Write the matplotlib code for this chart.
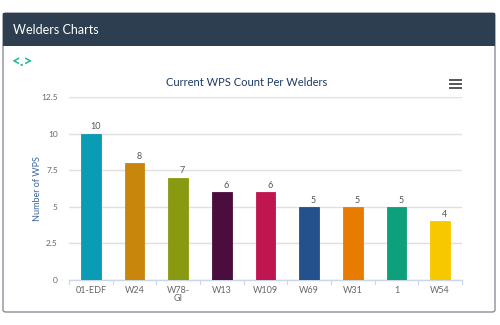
import matplotlib.pyplot as plt
from matplotlib.patches import FancyBboxPatch, Rectangle

# data
welders = ['01-EDF', 'W24', 'W78-\nGI', 'W13', 'W109', 'W69', 'W31', '1', 'W54']
wps_count = [10, 8, 7, 6, 6, 5, 5, 5, 4]
bar_colors = ['#0a9bb5', '#c8860d', '#8a9a10', '#4b0c3e', '#bf1650',
              '#24508c', '#e87c00', '#0ea07a', '#f7c800']
y_ticks = [0, 2.5, 5, 7.5, 10, 12.5]
y_tick_labels = ['0', '2.5', '5', '7.5', '10', '12.5']

plt.rcParams['font.family'] = ['Lato', 'DejaVu Sans']

fig = plt.figure(figsize=(5, 3.25), dpi=100)
W, H = 500, 325

def fx(x):
    return x / W

def fy(y):
    return 1 - y / H

# card with dark header
card = FancyBboxPatch((fx(3), fy(312)), fx(492), (312 - 13) / H,
                      boxstyle='round,pad=0,rounding_size=0.006',
                      transform=fig.transFigure, facecolor='white',
                      edgecolor='#8a9099', linewidth=1.0, zorder=-2)
fig.patches.append(card)
header = Rectangle((fx(3), fy(46)), fx(492), 33 / H, transform=fig.transFigure,
                   facecolor='#2d3e50', edgecolor='none', zorder=-1)
fig.patches.append(header)
fig.text(fx(13), fy(30), 'Welders Charts', color='white', fontsize=9,
         va='center', ha='left')
fig.text(fx(12), fy(62), '<.>', color='#17b58c', fontsize=11, fontweight='bold',
         va='center', ha='left')

# menu icon
for yy in (80, 84, 88):
    fig.add_artist(plt.Line2D([fx(450), fx(461)], [fy(yy), fy(yy)],
                              color='#555555', linewidth=1.4))

ax = fig.add_axes([fx(69), fy(280), fx(462 - 69), (280 - 97) / H])
ax.set_zorder(2)
ax.patch.set_alpha(0)
x = range(len(welders))
bars = ax.bar(x, wps_count, width=0.45, color=bar_colors, edgecolor=bar_colors,
              linewidth=0.6, zorder=3)
for xi, v in zip(x, wps_count):
    ax.text(xi + 0.1, v + 0.15, str(v), ha='center', va='bottom', fontsize=6.5,
            color='#555555')

ax.set_xlim(-0.5, len(welders) - 0.5)
ax.set_ylim(0, 12.5)
ax.set_yticks(y_ticks)
ax.set_yticklabels(y_tick_labels)
ax.set_xticks(list(x))
ax.set_xticklabels(welders, linespacing=0.9)
ax.tick_params(axis='y', length=0, labelsize=6, labelcolor='#666666', pad=8)
ax.tick_params(axis='x', length=0, labelsize=6.5, labelcolor='#666666', pad=4)
for b in [i - 0.5 for i in range(len(welders) + 1)]:
    ax.plot([b, b], [0, -0.25], color='#ccd6eb', linewidth=0.8, clip_on=False)
ax.grid(axis='y', color='#e0e0e0', linewidth=1.0, zorder=0)
for s in ['top', 'right', 'left']:
    ax.spines[s].set_visible(False)
ax.spines['bottom'].set_color('#ccd6eb')
ax.spines['bottom'].set_linewidth(1.0)
ax.set_ylabel('Number of WPS', fontsize=6.5, color='#3a64a0')
ax.yaxis.set_label_coords((42 - 69) / 393, 0.5)
fig.text(fx(247), fy(82), 'Current WPS Count Per Welders', fontsize=8,
         color='#1c3a66', ha='center', va='center')

fig.savefig('out.png', dpi=100)
